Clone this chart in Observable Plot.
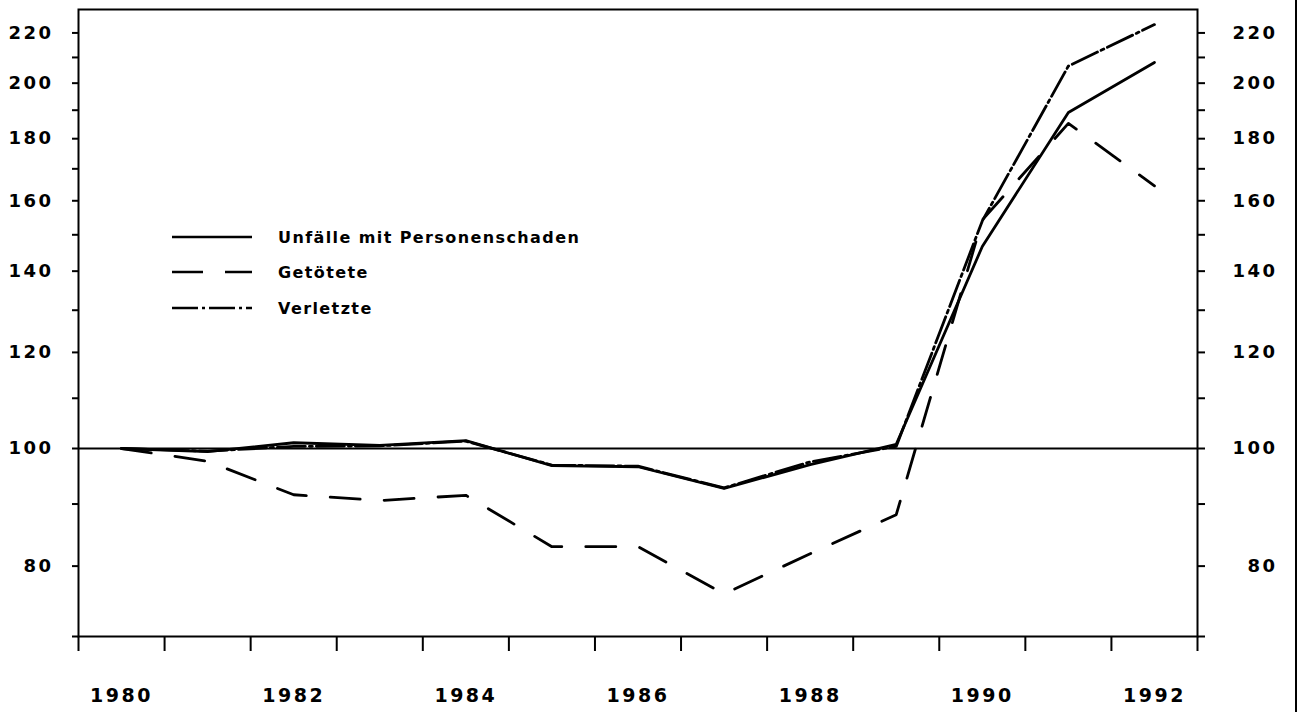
<!DOCTYPE html>
<html>
<head>
<meta charset="utf-8">
<script src="https://cdn.jsdelivr.net/npm/d3@7"></script>
<script src="https://cdn.jsdelivr.net/npm/@observablehq/plot@0.6"></script>
<style>
  html, body { margin: 0; padding: 0; background: white; }
  #wrap { position: relative; width: 1299px; height: 712px; overflow: hidden; background: white; }
  #wrap svg text { letter-spacing: 2.5px; }
  #border { position: absolute; left: 1295px; top: 0; width: 2px; height: 712px; background: black; }
  .leg { position: absolute; left: 172px; font-family: "DejaVu Sans", sans-serif; font-weight: bold; font-size: 16px; letter-spacing: 1.4px; color: black; white-space: nowrap; display: flex; align-items: center; height: 20px; }
  .leg svg { margin-right: 26px; }
</style>
</head>
<body>
<div id="wrap"></div>
<script>
// ---- data ----
const years = [1980, 1981, 1982, 1983, 1984, 1985, 1986, 1987, 1988, 1989, 1990, 1991, 1992];
const unfaelle  = [100, 99.4, 101.1, 100.6, 101.5, 96.8, 96.6, 92.7, 97.0, 100.8, 146.7, 189.2, 208.0];
const getoetete = [100, 97.6, 91.6, 90.6, 91.5, 83.0, 83.0, 75.9, 81.9, 88.2, 154.3, 185.3, 164.6];
const verletzte = [100, 99.5, 100.4, 100.5, 101.4, 96.9, 96.7, 92.8, 97.5, 100.4, 154.0, 206.6, 223.5];
const seriesNames = ["Unfälle mit Personenschaden", "Getötete", "Verletzte"];
const yTicks = [70, 80, 90, 100, 110, 120, 130, 140, 150, 160, 170, 180, 190, 200, 210, 220];
const yLabels = [80, 100, 120, 140, 160, 180, 200, 220];
const xTickBounds = [1979.5, 1980.5, 1981.5, 1982.5, 1983.5, 1984.5, 1985.5, 1986.5, 1987.5, 1988.5, 1989.5, 1990.5, 1991.5, 1992.5];
const xLabels = [1980, 1982, 1984, 1986, 1988, 1990, 1992];
const baseline = [100];

const dashes = ["none", "30,24", "28,4,3,4"];
const seriesValues = [unfaelle, getoetete, verletzte];
const tables = seriesValues.map((vals, i) => years.map((yr, j) => ({year: yr, value: vals[j], series: seriesNames[i]})));

const chart = Plot.plot({
  width: 1299,
  height: 712,
  marginLeft: 78,
  marginRight: 102,
  marginTop: 9,
  marginBottom: 76,
  style: {fontFamily: "DejaVu Sans, sans-serif", fontWeight: "bold", fontSize: "18px", background: "white", color: "black"},
  x: {domain: [1979.5, 1992.5]},
  y: {type: "log", domain: [70, 230]},
  marks: [
    Plot.frame({stroke: "black", strokeWidth: 2}),
    Plot.ruleY(baseline, {stroke: "black", strokeWidth: 2}),
    Plot.axisY(yTicks, {anchor: "left", tickSize: 6, tickPadding: 19, strokeWidth: 2, label: null,
      tickFormat: d => yLabels.includes(d) ? String(d) : ""}),
    Plot.axisY(yTicks, {anchor: "right", tickSize: 7, strokeWidth: 2, label: null, tickFormat: () => ""}),
    Plot.text(yLabels, {y: d => d, text: d => String(d), frameAnchor: "right", dx: 80, textAnchor: "end", fontSize: 18}),
    Plot.axisX(xTickBounds, {anchor: "bottom", tickSize: 15, strokeWidth: 2, label: null, tickFormat: () => ""}),
    Plot.axisX(xLabels, {anchor: "bottom", tickSize: 0, tickPadding: 52, label: null, fontSize: 19,
      tickFormat: d => String(d)}),
    ...tables.map((t, i) => Plot.line(t, {x: "year", y: "value", stroke: "black", strokeWidth: 2.8,
      strokeDasharray: dashes[i] === "none" ? undefined : dashes[i], strokeLinejoin: "round"}))
  ]
});

const wrap = document.getElementById("wrap");
wrap.appendChild(chart);

const border = document.createElement("div");
border.id = "border";
wrap.appendChild(border);

// legend overlay
const legTops = [227, 262, 298];
seriesNames.forEach((name, i) => {
  const row = document.createElement("div");
  row.className = "leg";
  row.style.top = legTops[i] + "px";
  const dash = dashes[i] === "none" ? "" : (i === 1 ? "31,22" : "26,4,3,4");
  row.innerHTML = `<svg width="80" height="10"><line x1="0" y1="5" x2="80" y2="5" stroke="black" stroke-width="2.6" ${dash ? `stroke-dasharray="${dash}"` : ""}/></svg><span>${name}</span>`;
  wrap.appendChild(row);
});
</script>
</body>
</html>
